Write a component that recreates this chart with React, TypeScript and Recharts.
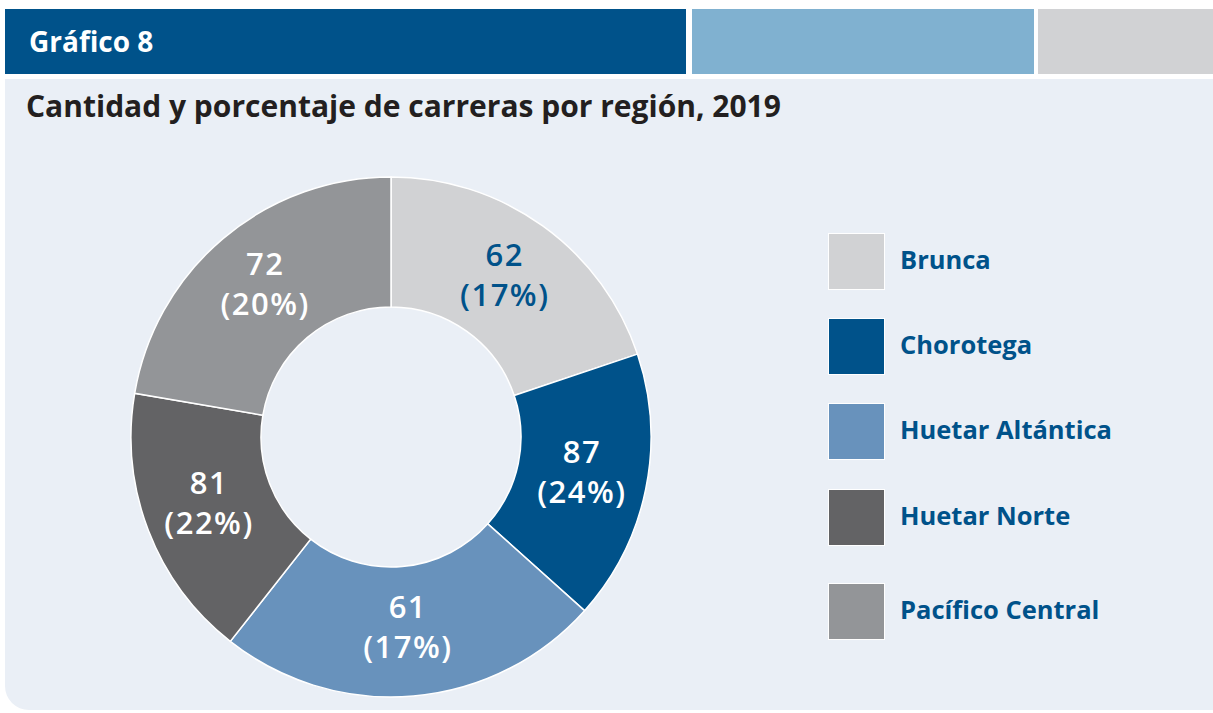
import { PieChart, Pie, Cell, Legend } from 'recharts';

const regiones = ['Brunca', 'Chorotega', 'Huetar Altántica', 'Huetar Norte', 'Pacífico Central'];
// cantidades y porcentajes tal como se rotulan en el gráfico
const carreras = [62, 87, 61, 81, 72];
const porcentajes = ['17%', '24%', '17%', '22%', '20%'];
// tamaño con que cada sector aparece dibujado en el original (no coincide con su rótulo)
const sectores = [72, 61, 87, 62, 81];

const COLORS = ['#D1D2D4', '#00528A', '#6892BC', '#636365', '#939598'];
const LABEL_COLORS = ['#00528A', '#fff', '#fff', '#fff', '#fff'];
const AZUL = '#00528A';
const FONT = '"Open Sans", sans-serif';

const data = regiones.map((name, i) => ({ name, value: sectores[i] }));

const RADIAN = Math.PI / 180;

function renderLabel(props: any) {
  const { cx, cy, midAngle, innerRadius, outerRadius, index } = props;
  const r = (innerRadius + outerRadius) / 2;
  const x = cx + r * Math.cos(-midAngle * RADIAN);
  const y = cy + r * Math.sin(-midAngle * RADIAN) - 4;
  return (
    <text
      x={x}
      y={y}
      textAnchor="middle"
      fill={LABEL_COLORS[index]}
      fontFamily={FONT}
      fontWeight={600}
      fontSize={31}
      letterSpacing={1.5}
    >
      <tspan x={x} dy={-9}>{carreras[index]}</tspan>
      <tspan x={x} dy={40}>({porcentajes[index]})</tspan>
    </text>
  );
}

function renderLegend(props: any) {
  const { payload } = props;
  const tops = [0, 85, 170, 256, 350];
  return (
    <div style={{ position: 'relative', width: 330, height: 420 }}>
      {payload.map((entry: any, i: number) => (
        <div
          key={`item-${i}`}
          style={{ position: 'absolute', left: 0, top: tops[i], display: 'flex', alignItems: 'center' }}
        >
          <div style={{ width: 55, height: 55, background: entry.color, boxShadow: '0 0 0 1px #fff' }} />
          <span
            style={{
              marginLeft: 16,
              marginTop: -6,
              color: AZUL,
              fontFamily: FONT,
              fontWeight: 700,
              fontSize: 25.5,
              whiteSpace: 'nowrap',
            }}
          >
            {entry.value}
          </span>
        </div>
      ))}
    </div>
  );
}

export default function App() {
  return (
    <div style={{ position: 'absolute', left: 0, top: 0, width: 1213, height: 713, background: '#fff', overflow: 'hidden' }}>
      <div style={{ position: 'absolute', left: 5, top: 9, width: 681, height: 65, background: AZUL }} />
      <div style={{ position: 'absolute', left: 692, top: 9, width: 342, height: 65, background: '#80B1D0' }} />
      <div style={{ position: 'absolute', left: 1038, top: 9, width: 175, height: 65, background: '#D1D2D4' }} />
      <div
        style={{
          position: 'absolute',
          left: 29,
          top: 22,
          color: '#fff',
          fontFamily: FONT,
          fontWeight: 700,
          fontSize: 28,
          lineHeight: '38px',
        }}
      >
        Gráfico 8
      </div>
      <div
        style={{
          position: 'absolute',
          left: 5,
          top: 79,
          width: 1208,
          height: 631,
          background: '#EAEFF6',
          borderBottomLeftRadius: 24,
        }}
      />
      <div
        style={{
          position: 'absolute',
          left: 26,
          top: 85,
          color: '#231F20',
          fontFamily: FONT,
          fontWeight: 700,
          fontSize: 30,
          lineHeight: '42px',
          whiteSpace: 'nowrap',
        }}
      >
        Cantidad y porcentaje de carreras por región, 2019
      </div>
      <div style={{ position: 'absolute', left: 0, top: 0 }}>
        <PieChart width={1213} height={713} margin={{ top: 0, right: 0, bottom: 0, left: 0 }}>
          <Pie
            data={data}
            dataKey="value"
            nameKey="name"
            cx={391}
            cy={437}
            innerRadius={130}
            outerRadius={260}
            startAngle={90}
            endAngle={-270}
            stroke="#fff"
            strokeWidth={1.5}
            label={renderLabel}
            labelLine={false}
            isAnimationActive={false}
          >
            {data.map((entry, index) => (
              <Cell key={`cell-${index}`} fill={COLORS[index]} />
            ))}
          </Pie>
          <Legend
            layout="vertical"
            content={renderLegend}
            wrapperStyle={{ position: 'absolute', left: 829, top: 234, width: 330, height: 420 }}
          />
        </PieChart>
      </div>
    </div>
  );
}
